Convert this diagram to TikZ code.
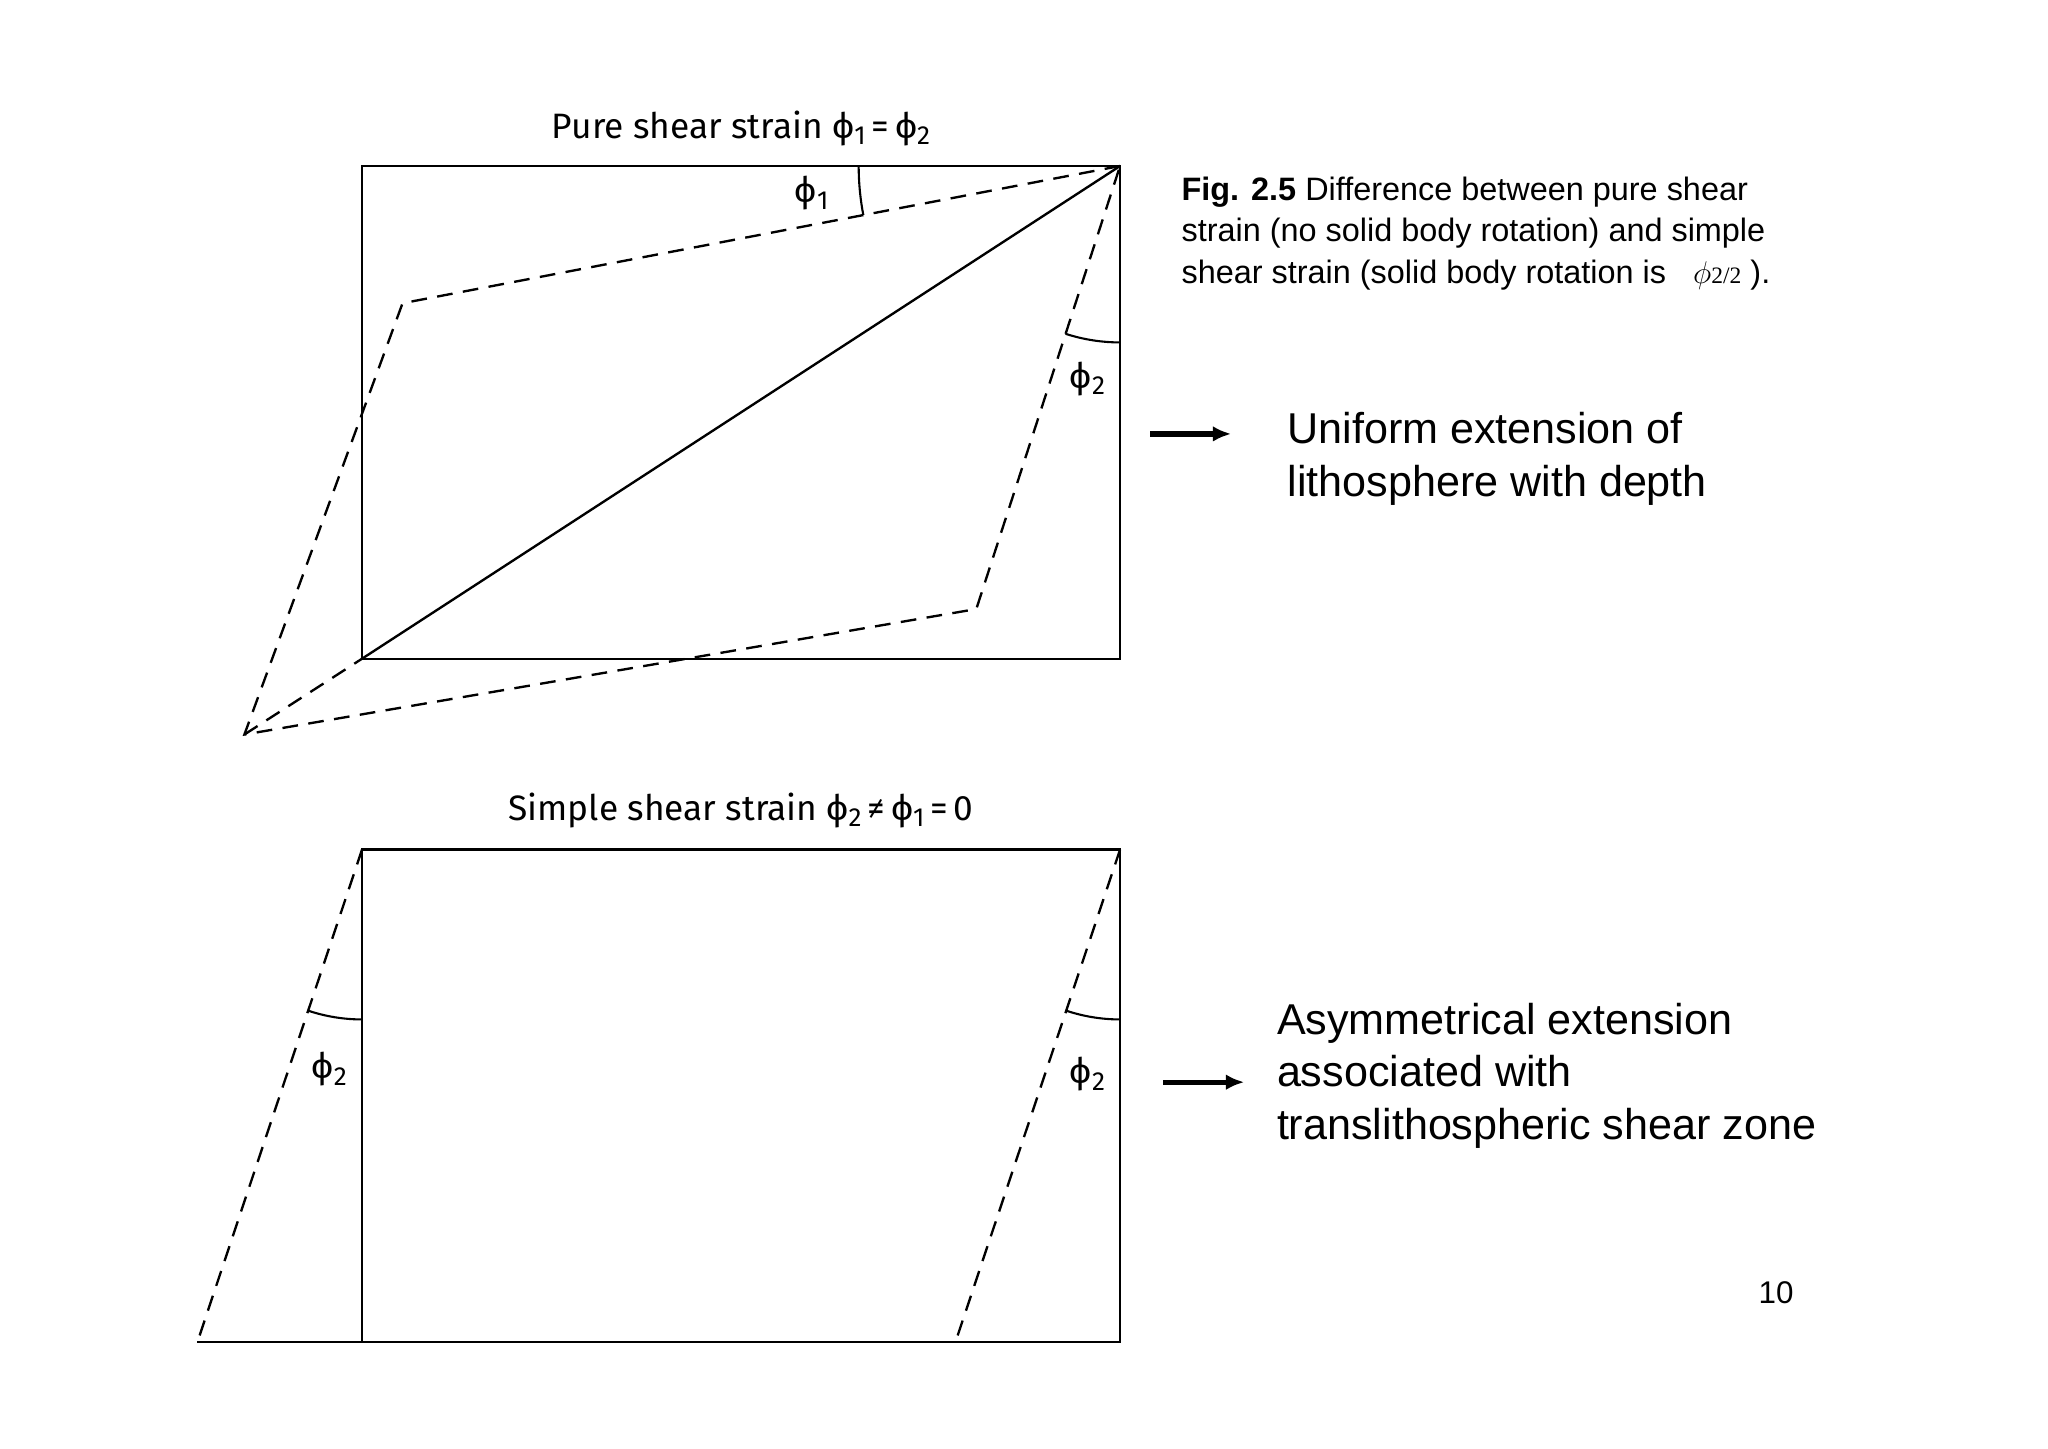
\documentclass[tikz,border=0pt]{standalone}
\usepackage{fontspec}
\usetikzlibrary{arrows.meta}
\setmainfont{Liberation Sans}
\newfontfamily\titlefont{Fira Sans}
\newfontfamily\serifx{Liberation Serif}
\newcommand{\ph}[1]{ϕ\raisebox{-0.35ex}{\fontsize{10}{10}\selectfont #1}}
\begin{document}
\begin{tikzpicture}[x=0.5pt,y=-0.5pt,
  solidln/.style={line width=0.9pt},
  dashln/.style={line width=0.9pt,dash pattern=on 6pt off 4pt},
  arcln/.style={line width=0.8pt},
  ttl/.style={font=\titlefont\fontsize{13.5}{16}\selectfont,anchor=center},
  phl/.style={font=\titlefont\fontsize{13.5}{16}\selectfont},
  big/.style={font=\fontsize{16.5}{20}\selectfont,align=left,anchor=west},
  arr/.style={line width=2pt,-{Latex[length=7pt,width=6pt]}}]
\useasboundingbox (0,0) rectangle (1567,1108);
% top panel
\coordinate (A) at (277,127); \coordinate (B) at (857,127);
\coordinate (C) at (857,504); \coordinate (D) at (277,504);
\coordinate (P1) at (308,232); \coordinate (P2) at (187,562); \coordinate (P3) at (747,466);
\draw[solidln] (A) rectangle (C);
\draw[solidln] (D) -- (B);
\draw[dashln] (B) -- (P1) -- (P2) -- (P3) -- cycle;
\draw[dashln] (P2) -- (D);
\draw[arcln] (B) ++(180:200) arc[start angle=180,end angle=169.2,radius=200];
\draw[arcln] (B) ++(90:135) arc[start angle=90,end angle=108,radius=135];
\node[ttl] (t1) at (567,98) {Pure shear strain \ph{1}\,=\,\ph{2}};
\node[phl] (f1) at (621,148) {\ph{1}};
\node[phl] (f2) at (832,290) {\ph{2}};
% bottom panel
\coordinate (E) at (277,650); \coordinate (F) at (857,650);
\coordinate (G) at (857,1027); \coordinate (H) at (277,1027);
\coordinate (Q1) at (151,1027); \coordinate (Q2) at (731,1027);
\draw[solidln] (E) rectangle (G);
\draw[solidln] (Q1) -- (H);
\draw[dashln] (E) -- (Q1);
\draw[dashln] (F) -- (Q2);
\draw[arcln] (E) ++(90:130) arc[start angle=90,end angle=108.5,radius=130];
\draw[arcln] (F) ++(90:130) arc[start angle=90,end angle=108.5,radius=130];
\node[ttl] (t2) at (567,620) {Simple shear strain \ph{2}\,≠\,\ph{1}\,=\,0};
\node[phl] (f3) at (252,818) {\ph{2}};
\node[phl] (f4) at (832,822) {\ph{2}};
% caption
\node[anchor=north west,align=left,font=\fontsize{12.4}{16}\selectfont] (cap) at (897,128)
 {\textbf{Fig. 2.5} Difference between pure shear\\strain (no solid body rotation) and simple\\shear strain (solid body rotation is \ \ {\serifx\itshape\large$\phi$}{\serifx\small 2/2} ).};
% arrows and texts
\node[big] (u) at (978,351) {Uniform extension of\\lithosphere with depth};
\coordinate (a1) at (880,332); \coordinate (a2) at (942,332);
\draw[arr] (a1) -- (a2);
\node[big] (s) at (970,823) {Asymmetrical extension\\associated with\\translithospheric shear zone};
\coordinate (b1) at (890,828); \coordinate (b2) at (952,828);
\draw[arr] (b1) -- (b2);
\node[font=\fontsize{12}{14}\selectfont] (n) at (1359,989) {10};
\end{tikzpicture}
\end{document}
